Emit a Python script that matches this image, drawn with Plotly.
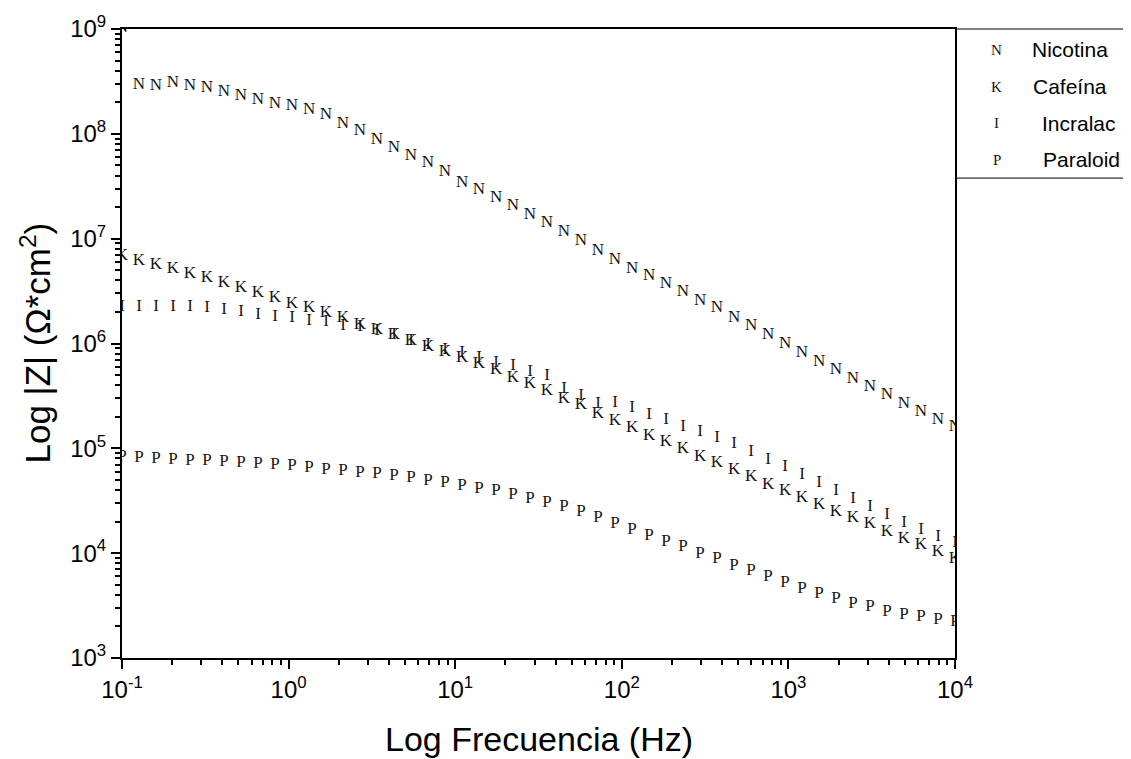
import plotly.graph_objects as go

# Frequencies (Hz), 50 points from 0.1 Hz to 10 kHz
freq = [0.1, 0.1265, 0.16, 0.2024, 0.256, 0.3237, 0.4095, 0.5179, 0.6551, 0.8286,
        1.048, 1.326, 1.677, 2.121, 2.683, 3.393, 4.292, 5.429, 6.866, 8.685,
        10.99, 13.89, 17.58, 22.23, 28.12, 35.56, 44.98, 56.9, 71.97, 91.04,
        115.2, 145.7, 184.2, 233.0, 294.8, 372.8, 471.6, 596.5, 754.5, 954.3,
        1207, 1527, 1931, 2442, 3089, 3907, 4942, 6251, 7907, 10000]

# |Z| (Ohm*cm^2)
nicotina = [1.03e9, 2.97e8, 2.86e8, 3.06e8, 2.86e8, 2.74e8, 2.51e8, 2.33e8, 2.12e8, 1.95e8,
            1.84e8, 1.71e8, 1.51e8, 1.26e8, 1.06e8, 8.73e7, 7.29e7, 6.17e7, 5.25e7, 4.31e7,
            3.44e7, 2.93e7, 2.45e7, 2.04e7, 1.70e7, 1.42e7, 1.16e7, 9.51e6, 7.69e6, 6.32e6,
            5.20e6, 4.43e6, 3.68e6, 3.12e6, 2.56e6, 2.19e6, 1.78e6, 1.47e6, 1.20e6, 9.96e5,
            8.13e5, 6.68e5, 5.57e5, 4.64e5, 3.87e5, 3.23e5, 2.69e5, 2.21e5, 1.87e5, 1.62e5]

cafeina = [6.85e6, 6.20e6, 5.68e6, 5.12e6, 4.66e6, 4.21e6, 3.83e6, 3.38e6, 3.08e6, 2.72e6,
           2.42e6, 2.18e6, 1.95e6, 1.76e6, 1.52e6, 1.35e6, 1.22e6, 1.07e6, 9.40e5, 8.30e5,
           7.33e5, 6.35e5, 5.57e5, 4.74e5, 4.16e5, 3.52e5, 3.00e5, 2.59e5, 2.16e5, 1.83e5,
           1.56e5, 1.33e5, 1.15e5, 9.93e4, 8.40e4, 7.26e4, 6.28e4, 5.31e4, 4.53e4, 3.91e4,
           3.38e4, 2.92e4, 2.49e4, 2.16e4, 1.89e4, 1.61e4, 1.36e4, 1.21e4, 1.04e4, 8.81e3]

incralac = [2.22e6, 2.25e6, 2.25e6, 2.25e6, 2.22e6, 2.18e6, 2.09e6, 1.99e6, 1.88e6, 1.81e6,
            1.78e6, 1.66e6, 1.60e6, 1.49e6, 1.43e6, 1.33e6, 1.22e6, 1.06e6, 9.83e5, 8.67e5,
            8.13e5, 7.37e5, 6.61e5, 6.12e5, 5.37e5, 4.95e5, 3.73e5, 3.20e5, 2.69e5, 2.73e5,
            2.45e5, 2.11e5, 1.87e5, 1.62e5, 1.45e5, 1.27e5, 1.11e5, 9.37e4, 7.82e4, 6.61e4,
            5.55e4, 4.69e4, 3.91e4, 3.30e4, 2.76e4, 2.32e4, 1.96e4, 1.66e4, 1.43e4, 1.26e4]

paraloid = [8.39e4, 8.09e4, 7.98e4, 7.81e4, 7.69e4, 7.64e4, 7.41e4, 7.26e4, 7.10e4, 7.01e4,
            6.75e4, 6.51e4, 6.18e4, 6.05e4, 5.83e4, 5.70e4, 5.51e4, 5.23e4, 4.94e4, 4.69e4,
            4.36e4, 4.11e4, 3.91e4, 3.59e4, 3.32e4, 3.03e4, 2.76e4, 2.49e4, 2.16e4, 1.89e4,
            1.66e4, 1.47e4, 1.29e4, 1.14e4, 9.95e3, 8.81e3, 7.62e3, 6.73e3, 5.90e3, 5.18e3,
            4.58e3, 4.10e3, 3.68e3, 3.30e3, 3.06e3, 2.75e3, 2.61e3, 2.46e3, 2.33e3, 2.21e3]

series_names = ["Nicotina", "Cafeína", "Incralac", "Paraloid"]
series_letters = ["N", "K", "I", "P"]
series_values = [nicotina, cafeina, incralac, paraloid]

x_tickvals = [0.1, 1, 10, 100, 1000, 10000]
x_ticktext = ["10<sup>-1</sup>", "10<sup>0</sup>", "10<sup>1</sup>", "10<sup>2</sup>",
              "10<sup>3</sup>", "10<sup>4</sup>"]
y_tickvals = [1e3, 1e4, 1e5, 1e6, 1e7, 1e8, 1e9]
y_ticktext = ["10<sup>3</sup>", "10<sup>4</sup>", "10<sup>5</sup>", "10<sup>6</sup>",
              "10<sup>7</sup>", "10<sup>8</sup>", "10<sup>9</sup>"]

fig = go.Figure()
for name, letter, vals in zip(series_names, series_letters, series_values):
    fig.add_trace(go.Scatter(
        x=freq, y=vals, mode="text", text=[letter] * len(vals),
        textposition="middle center", name=name, cliponaxis=True,
        textfont=dict(family="Liberation Serif", size=17, color="#151515"),
        showlegend=False,
    ))

axis_common = dict(
    type="log", showgrid=False, zeroline=False,
    showline=True, linecolor="black", linewidth=2, mirror=True,
    ticks="outside", ticklen=9, tickwidth=2, tickcolor="black",
    tickfont=dict(family="Liberation Sans", size=24, color="black"),
    minor=dict(ticks="outside", ticklen=5, tickwidth=2, tickcolor="black",
               dtick="D1", showgrid=False),
)

fig.update_layout(
    width=1131, height=759, autosize=False,
    margin=dict(l=122, r=176, t=25, b=101),
    paper_bgcolor="white", plot_bgcolor="white",
    xaxis=dict(range=[-1, 4], tickmode="array", tickvals=x_tickvals, ticktext=x_ticktext,
               **axis_common),
    yaxis=dict(range=[3, 9], tickmode="array", tickvals=y_tickvals, ticktext=y_ticktext,
               **axis_common),
)

# Axis titles
fig.add_annotation(text="Log Frecuencia (Hz)", xref="paper", yref="paper",
                   x=0.5, y=-0.128, xanchor="center", yanchor="middle", showarrow=False,
                   font=dict(family="Liberation Sans", size=34, color="black"))
fig.add_annotation(text="Log |Z| (Ω*cm<sup>2</sup>)", xref="paper", yref="paper",
                   x=-0.1044, y=0.5, xanchor="center", yanchor="middle", showarrow=False,
                   textangle=-90,
                   font=dict(family="Liberation Sans", size=35, color="black"))

# Legend box (outside the plot, to the right)
leg_right = 1.2017
leg_bottom = 0.763
fig.add_shape(type="line", xref="paper", yref="paper", x0=1.0, x1=leg_right, y0=1.0, y1=1.0,
              line=dict(color="black", width=1))
fig.add_shape(type="line", xref="paper", yref="paper", x0=1.0, x1=leg_right,
              y0=leg_bottom, y1=leg_bottom, line=dict(color="black", width=1))

leg_y = [0.9668, 0.9079, 0.8499, 0.7919]
leg_text_x = [1.0900, 1.0914, 1.1020, 1.1032]
for name, letter, yy, tx in zip(series_names, series_letters, leg_y, leg_text_x):
    fig.add_annotation(text=letter, xref="paper", yref="paper", x=1.0504, y=yy,
                       xanchor="center", yanchor="middle", showarrow=False,
                       font=dict(family="Liberation Serif", size=15, color="#151515"))
    fig.add_annotation(text=name, xref="paper", yref="paper", x=tx, y=yy,
                       xanchor="left", yanchor="middle", showarrow=False,
                       font=dict(family="Liberation Sans", size=21, color="black"))

fig.write_html("out.html")
